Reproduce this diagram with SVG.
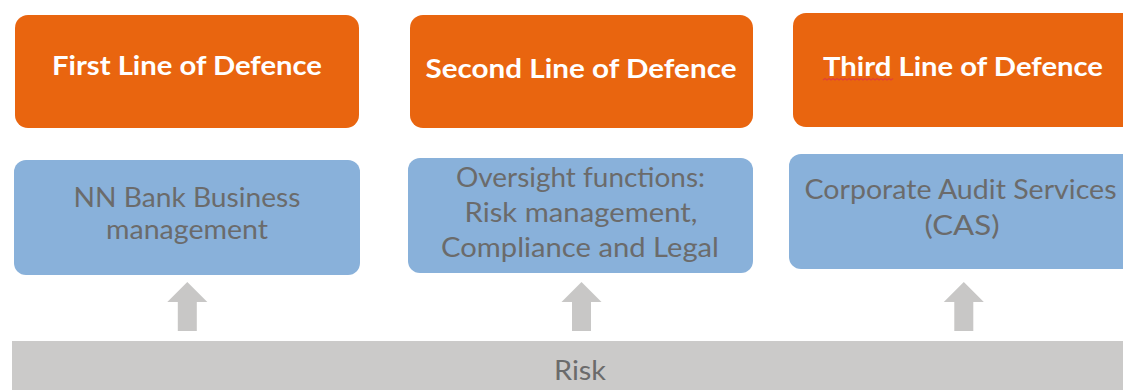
<svg xmlns="http://www.w3.org/2000/svg" width="1123" height="390" viewBox="0 0 1123 390">
<style>
.head{fill:#e9650f}
.body{fill:#89b1da}
.ht{font-family:Lato,"Liberation Sans",sans-serif;font-weight:bold;font-size:27px;fill:#ffffff;text-anchor:middle}
.bt{font-family:Lato,"Liberation Sans",sans-serif;font-size:27px;fill:#6b6b6b;text-anchor:middle}
.arr{fill:#c8c7c6}
</style>
<rect x="0" y="0" width="1123" height="390" fill="#ffffff"/>
<g id="first-head"><rect class="head" x="15" y="15" width="344" height="113" rx="13"/><text class="ht" x="187" y="75" textLength="270" lengthAdjust="spacingAndGlyphs">First Line of Defence</text></g>
<g id="second-head"><rect class="head" x="410" y="15" width="343" height="113" rx="13"/><text class="ht" x="581" y="78" textLength="311" lengthAdjust="spacingAndGlyphs">Second Line of Defence</text></g>
<g id="third-head"><rect class="head" x="793" y="13" width="345" height="114" rx="13"/><text class="ht" x="963" y="76" textLength="280" lengthAdjust="spacingAndGlyphs">Third Line of Defence</text>
<path d="M823 80 l2 -1.5 l2 1.5 l2 -1.5 l2 1.5 l2 -1.5 l2 1.5 l2 -1.5 l2 1.5 l2 -1.5 l2 1.5 l2 -1.5 l2 1.5 l2 -1.5 l2 1.5 l2 -1.5 l2 1.5 l2 -1.5 l2 1.5 l2 -1.5 l2 1.5 l2 -1.5 l2 1.5 l2 -1.5 l2 1.5 l2 -1.5 l2 1.5 l2 -1.5 l2 1.5 l2 -1.5 l2 1.5 l2 -1.5 l2 1.5 l2 -1.5 l2 1.5 l2 -1.5" fill="none" stroke="#e0413a" stroke-width="1.1"/></g>
<g id="first-body"><rect class="body" x="14" y="160" width="346" height="115" rx="12"/><text class="bt" x="187" y="207" textLength="227" lengthAdjust="spacingAndGlyphs">NN Bank Business</text><text class="bt" x="187" y="239" textLength="162" lengthAdjust="spacingAndGlyphs">management</text></g>
<g id="second-body"><rect class="body" x="408" y="158" width="345" height="115" rx="12"/><text class="bt" x="580.5" y="187" textLength="249" lengthAdjust="spacingAndGlyphs">Oversight functions:</text><text class="bt" x="581" y="222" textLength="233" lengthAdjust="spacingAndGlyphs">Risk management,</text><text class="bt" x="580" y="257" textLength="278" lengthAdjust="spacingAndGlyphs">Compliance and Legal</text></g>
<g id="third-body"><rect class="body" x="789" y="154" width="350" height="115" rx="12"/><text class="bt" x="960.5" y="199" textLength="312" lengthAdjust="spacingAndGlyphs">Corporate Audit Services</text><text class="bt" x="962" y="235" textLength="75" lengthAdjust="spacingAndGlyphs">(CAS)</text></g>
<g id="connectors">
<polygon class="arr" points="187.3,282 207.3,302 196.8,302 196.8,331 177.8,331 177.8,302 167.3,302"/>
<polygon class="arr" points="581.5,282 601.5,302 591,302 591,331 572,331 572,302 561.5,302"/>
<polygon class="arr" points="963.8,282 983.8,302 973.3,302 973.3,331 954.3,331 954.3,302 943.8,302"/>
</g>
<g id="risk"><rect x="12" y="341" width="1125" height="60" fill="#cbcac9"/><text class="bt" x="580" y="380" textLength="52" lengthAdjust="spacingAndGlyphs">Risk</text></g>
</svg>
